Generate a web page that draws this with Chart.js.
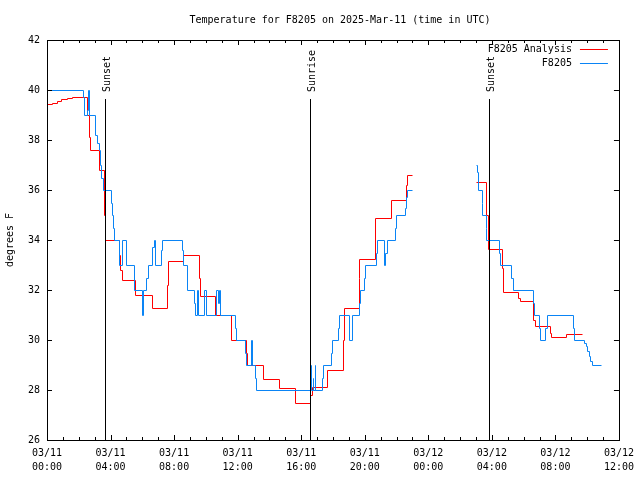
<!DOCTYPE html>
<html>
<head>
<meta charset="utf-8">
<script src="https://cdn.jsdelivr.net/npm/chart.js@4/dist/chart.umd.min.js"></script>
<style>
  html, body { margin: 0; padding: 0; background: #fff; }
  canvas { display: block; }
</style>
</head>
<body>
<canvas id="temp-chart" width="640" height="480"></canvas>
<script>
const titleText = 'Temperature for F8205 on 2025-Mar-11 (time in UTC)';
const yTitle = 'degrees F';
const seriesNames = ['F8205 Analysis', 'F8205'];
const seriesColors = ['#ff0000', '#0a84f5'];

// hours since 03/11 00:00 UTC, null marks the data gap
const analysisHours = [0, 0.3, 0.6, 0.9, 1.25, 1.55, 2.49, 2.66, 2.7, 3.3, 3.58, 3.64,
  4.54, 4.62, 4.69, 5.53, 6.58, 7.58, 7.62, 8.57, 9.57, 9.66, 10.6, 11.6,
  12.55, 12.6, 13.59, 14.6, 15.64, 16.57, 16.67, 17.61, 18.66, 18.7, 19.62, 19.66,
  20.67, 21.66, 22.6, 22.64, 22.97, 25,
  27.03, 27.62, 27.73, 28.67, 28.72, 29.67, 29.76, 30.6, 30.72, 31.64, 31.75, 32.69, 33.65];
const analysisTemps = [39.43, 39.5, 39.56, 39.63, 39.69, 39.73, 39.0, 38.1, 37.6, 36.8, 35.0, 34.0,
  33.4, 32.8, 32.4, 31.8, 31.3, 32.2, 33.15, 33.4, 32.5, 31.75, 31.0, 30.0,
  29.5, 29.0, 28.43, 28.07, 27.47, 27.8, 28.13, 28.8, 30.0, 31.27, 32.5, 33.23,
  34.87, 35.6, 36.2, 36.6, 36.6, null,
  36.31, 35.0, 33.63, 32.9, 31.91, 31.7, 31.56, 30.8, 30.56, 30.3, 30.11, 30.24, 30.24];

const obsHours = [0, 0.03, 2.28, 2.35, 2.5, 2.57, 2.62, 3.02, 3.15, 3.25, 3.32, 3.43, 3.54,
  4.0, 4.08, 4.17, 4.23, 4.54, 4.71, 4.96, 5.49, 5.95, 6.02, 6.26, 6.37, 6.64, 6.72, 6.79,
  7.16, 7.25, 8.5, 8.57, 8.82, 9.26, 9.34, 9.47, 9.51, 9.86, 9.99, 10.62, 10.76, 10.81, 10.87,
  11.81, 11.9, 12.44, 12.55, 12.82, 12.88, 13.07, 13.13,
  16.57, 16.62, 16.72, 16.77, 16.85, 16.9, 17.32, 17.36, 17.88, 17.93, 18.3, 18.37, 18.99, 19.2,
  19.62, 19.71, 19.94, 20.02, 20.69, 20.75, 21.19, 21.3, 21.38, 21.9, 21.97, 22.51, 22.6, 22.64, 22.97, 25,
  27.0, 27.05, 27.1, 27.35, 27.41, 27.62, 27.66, 28.42, 28.5, 29.23, 29.3, 30.6, 30.68, 30.97, 31.05,
  31.35, 31.45, 33.13, 33.2, 33.8, 33.9, 34.0, 34.1, 34.2, 34.28, 34.85];
const obsTemps = [40.5, 40.0, 39.7, 39.0, 39.2, 40.0, 39.0, 38.2, 37.9, 37.6, 37.0, 36.5, 36.0,
  35.5, 35.0, 34.5, 34.0, 33.0, 34.0, 33.0, 32.0, 31.0, 32.0, 32.5, 33.0, 33.7, 34.0, 33.0,
  33.6, 34.0, 33.6, 33.0, 32.0, 31.5, 31.0, 32.0, 31.0, 32.0, 31.0, 32.0, 31.5, 32.0, 31.0,
  30.5, 30.0, 29.5, 29.0, 30.0, 29.0, 28.5, 28.0,
  29.0, 28.0, 28.5, 28.0, 29.0, 28.0, 28.5, 29.0, 29.5, 30.0, 30.5, 31.0, 30.0, 31.0,
  31.5, 32.0, 32.5, 33.0, 33.5, 34.0, 33.0, 33.5, 34.0, 34.5, 35.0, 35.3, 35.7, 36.0, 36.0, null,
  37.0, 36.7, 36.0, 35.5, 35.0, 34.5, 34.0, 33.5, 33.0, 32.5, 32.0, 31.5, 31.0, 30.5, 30.0,
  30.5, 31.0, 30.5, 30.0, 29.9, 29.75, 29.55, 29.35, 29.15, 29.0, 29.0];

const eventLabels = ['Sunset', 'Sunrise', 'Sunset'];
const eventHours = [3.66, 16.54, 27.81];

const xTickHours = [0, 4, 8, 12, 16, 20, 24, 28, 32, 36];
const xTickLabels = [['03/11', '00:00'], ['03/11', '04:00'], ['03/11', '08:00'], ['03/11', '12:00'],
  ['03/11', '16:00'], ['03/11', '20:00'], ['03/12', '00:00'], ['03/12', '04:00'],
  ['03/12', '08:00'], ['03/12', '12:00']];
const yTicks = [26, 28, 30, 32, 34, 36, 38, 40, 42];

const FONT = 'DejaVu Sans Mono';
Chart.defaults.font.family = FONT;
Chart.defaults.font.size = 10;
Chart.defaults.color = '#000';

function toPoints(xs, ys) {
    return xs.map((x, i) => ({ x: x, y: ys[i] }));
}

// snap the step lines onto whole pixels so they stay crisp like gnuplot's png output
const crispLines = {
    id: 'crispLines',
    beforeDatasetsDraw(chart) {
        const ctx = chart.ctx;
        const moveTo = ctx.moveTo, lineTo = ctx.lineTo;
        ctx.moveTo = (x, y) => moveTo.call(ctx, Math.round(x) + 0.5, Math.round(y) + 0.5);
        ctx.lineTo = (x, y) => lineTo.call(ctx, Math.round(x) + 0.5, Math.round(y) + 0.5);
        this._orig = { moveTo, lineTo };
    },
    afterDatasetsDraw(chart) {
        if (this._orig) {
            chart.ctx.moveTo = this._orig.moveTo;
            chart.ctx.lineTo = this._orig.lineTo;
            this._orig = null;
        }
    }
};

// gnuplot-like frame, ticks, event markers, key and title
const gnuplotDecor = {
    id: 'gnuplotDecor',
    afterDatasetsDraw(chart) {
        const { ctx, chartArea: a, scales } = chart;
        const xs = scales.x, ys = scales.y;
        ctx.save();
        ctx.strokeStyle = '#000';
        ctx.lineWidth = 1;

        // frame
        ctx.strokeRect(Math.round(a.left) + 0.5, Math.round(a.top) + 0.5,
            Math.round(a.right - a.left), Math.round(a.bottom - a.top));

        // x ticks, one per hour, long every 4 h
        ctx.beginPath();
        for (let h = xs.min; h <= xs.max; h++) {
            const px = Math.round(xs.getPixelForValue(h)) + 0.5;
            const len = h % 4 === 0 ? 5 : 3;
            ctx.moveTo(px, a.bottom); ctx.lineTo(px, a.bottom - len);
            ctx.moveTo(px, a.top); ctx.lineTo(px, a.top + len);
        }
        yTicks.forEach(v => {
            const py = Math.round(ys.getPixelForValue(v)) + 0.5;
            ctx.moveTo(a.left, py); ctx.lineTo(a.left + 5, py);
            ctx.moveTo(a.right, py); ctx.lineTo(a.right - 5, py);
        });
        ctx.stroke();

        // sunrise / sunset markers
        ctx.fillStyle = '#000';
        ctx.font = '10px "' + FONT + '"';
        eventHours.forEach((h, i) => {
            const px = Math.round(xs.getPixelForValue(h)) + 0.5;
            ctx.beginPath();
            ctx.moveTo(px, a.top + 59);
            ctx.lineTo(px, a.bottom);
            ctx.stroke();
            ctx.save();
            ctx.translate(px + 1.5, a.top + 52);
            ctx.rotate(-Math.PI / 2);
            ctx.textAlign = 'left';
            ctx.textBaseline = 'middle';
            ctx.fillText(eventLabels[i], 0, 0);
            ctx.restore();
        });

        // key
        ctx.textAlign = 'right';
        ctx.textBaseline = 'middle';
        seriesNames.forEach((name, i) => {
            const ky = Math.round(a.top + 9) + 0.5 + i * 14;
            ctx.fillStyle = '#000';
            ctx.fillText(name, a.right - 47, ky);
            ctx.strokeStyle = seriesColors[i];
            ctx.beginPath();
            ctx.moveTo(a.right - 39, ky);
            ctx.lineTo(a.right - 11, ky);
            ctx.stroke();
        });

        // title
        ctx.fillStyle = '#000';
        ctx.textAlign = 'center';
        ctx.fillText(titleText, 340, 20);
        ctx.restore();
    }
};

const ctx = document.getElementById('temp-chart').getContext('2d');
new Chart(ctx, {
    type: 'line',
    data: {
        datasets: [
            {
                label: seriesNames[0],
                data: toPoints(analysisHours, analysisTemps),
                borderColor: seriesColors[0],
                borderWidth: 1,
                stepped: true,
                pointRadius: 0,
                fill: false,
                segment: {},
                order: 1
            },
            {
                label: seriesNames[1],
                data: toPoints(obsHours, obsTemps),
                borderColor: seriesColors[1],
                borderWidth: 1,
                stepped: true,
                pointRadius: 0,
                fill: false,
                segment: {},
                order: 0
            }
        ]
    },
    options: {
        responsive: false,
        animation: false,
        devicePixelRatio: 1,
        spanGaps: false,
        layout: { padding: { top: 40, right: 20, left: 0, bottom: 0 } },
        plugins: {
            legend: { display: false },
            title: { display: false },
            tooltip: { enabled: false }
        },
        scales: {
            x: {
                type: 'linear',
                min: 0,
                max: 36,
                grid: { display: false, drawTicks: false },
                border: { display: false },
                afterBuildTicks: scale => { scale.ticks = xTickHours.map(v => ({ value: v })); },
                afterFit: scale => { scale.height = 40; },
                ticks: {
                    autoSkip: false,
                    maxRotation: 0,
                    padding: 6,
                    font: { size: 10, lineHeight: 1.4 },
                    callback: value => xTickLabels[xTickHours.indexOf(value)]
                }
            },
            y: {
                min: 26,
                max: 42,
                grid: { display: false, drawTicks: false },
                border: { display: false },
                afterBuildTicks: scale => { scale.ticks = yTicks.map(v => ({ value: v })); },
                afterFit: scale => { scale.width = 47; },
                ticks: {
                    padding: 7,
                    font: { size: 10 },
                    callback: value => String(value)
                },
                title: {
                    display: true,
                    text: yTitle,
                    font: { size: 10 },
                    padding: { top: 4, bottom: 0 }
                }
            }
        }
    },
    plugins: [crispLines, gnuplotDecor]
});
</script>
</body>
</html>
